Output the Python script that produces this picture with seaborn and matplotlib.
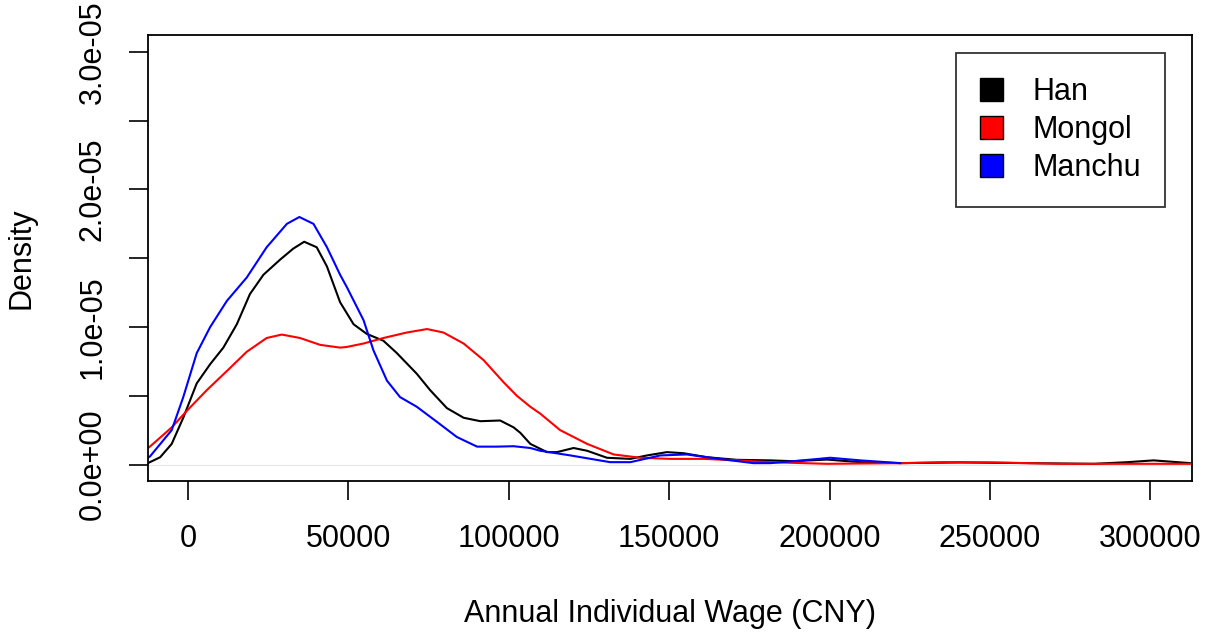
import numpy as np
import pandas as pd
import seaborn as sns
import matplotlib.pyplot as plt
from matplotlib.patches import Patch

# density curves (x in CNY, density in units of 1e-5)
han_x = [-12500, -11900, -8700, -5100, -1500, 2700, 6900, 11000, 15200, 19300,
         23500, 28700, 32800, 36200, 40100, 43300, 47400, 51600, 55700, 60900,
         65100, 71300, 75500, 80700, 85900, 91100, 97300, 101500, 103600, 106700,
         111900, 115000, 120200, 124400, 130600, 137900, 143100, 149300, 154500,
         161800, 171100, 181500, 188700, 199200, 209600, 222100, 240800, 261600,
         282300, 292900, 301000, 312500]
han_y = [0.01, 0.017, 0.053, 0.15, 0.34, 0.59, 0.73, 0.85, 1.02, 1.24,
         1.38, 1.49, 1.57, 1.62, 1.58, 1.44, 1.18, 1.02, 0.95, 0.90,
         0.81, 0.66, 0.54, 0.41, 0.34, 0.315, 0.32, 0.27, 0.23, 0.15,
         0.09, 0.09, 0.12, 0.10, 0.049, 0.041, 0.066, 0.09, 0.082,
         0.053, 0.034, 0.03, 0.024, 0.036, 0.017, 0.01, 0.015, 0.01,
         0.005, 0.017, 0.03, 0.01]

mongol_x = [-12500, -11900, -5100, -400, 5800, 12100, 18300, 24500, 29200, 34900,
            41200, 47400, 49500, 54700, 60900, 68200, 74500, 79600, 85900, 92100,
            98300, 102500, 106700, 109800, 116000, 124400, 132700, 141000, 150300,
            160700, 171100, 181500, 199200, 223000, 235500, 251100, 272000, 292900,
            312500]
mongol_y = [0.12, 0.13, 0.27, 0.39, 0.54, 0.68, 0.82, 0.92, 0.945, 0.92,
            0.87, 0.85, 0.855, 0.88, 0.92, 0.96, 0.985, 0.96, 0.88, 0.76,
            0.60, 0.50, 0.42, 0.37, 0.25, 0.15, 0.073, 0.049, 0.041,
            0.041, 0.03, 0.017, 0.005, 0.01, 0.017, 0.015, 0.005, 0.005,
            0.005]

manchu_x = [-12500, -11900, -5100, -1500, 2700, 6900, 12100, 18300, 24500, 30800,
            34700, 39100, 43300, 47400, 49500, 54700, 57800, 62000, 66100, 71300,
            77600, 83800, 90100, 96300, 101500, 106700, 109800, 119200, 131600,
            137900, 147200, 155500, 165900, 176200, 181500, 188700, 200200, 209600,
            222100]
manchu_y = [0.05, 0.058, 0.25, 0.49, 0.81, 1.0, 1.19, 1.36, 1.58, 1.75,
            1.80, 1.75, 1.58, 1.38, 1.29, 1.05, 0.83, 0.61, 0.49, 0.42,
            0.31, 0.20, 0.13, 0.13, 0.133, 0.12, 0.10, 0.066, 0.017,
            0.017, 0.066, 0.073, 0.04, 0.01, 0.01, 0.024, 0.049, 0.03,
            0.01]

groups = ['Han', 'Mongol', 'Manchu']
colors = ['black', 'red', 'blue']
x_ticks = [0, 50000, 100000, 150000, 200000, 250000, 300000]
y_ticks = [0, 5e-06, 1e-05, 1.5e-05, 2e-05, 2.5e-05, 3e-05]
y_labels = ['0.0e+00', '', '1.0e-05', '', '2.0e-05', '', '3.0e-05']

frames = []
for name, xs, ys in [('Han', han_x, han_y), ('Mongol', mongol_x, mongol_y),
                     ('Manchu', manchu_x, manchu_y)]:
    frames.append(pd.DataFrame({'wage': xs, 'density': np.array(ys) * 1e-5, 'group': name}))
df = pd.concat(frames, ignore_index=True)

sns.set_theme(style='white')
plt.rcParams['font.family'] = ['Liberation Sans', 'DejaVu Sans']
plt.rcParams['text.color'] = 'black'
plt.rcParams['axes.labelcolor'] = 'black'
plt.rcParams['xtick.major.size'] = 14
plt.rcParams['ytick.major.size'] = 14
plt.rcParams['xtick.major.width'] = 1.2
plt.rcParams['ytick.major.width'] = 1.2
plt.rcParams['xtick.bottom'] = True
plt.rcParams['ytick.left'] = True

fig = plt.figure(figsize=(12.06, 6.36), dpi=100)
ax = fig.add_axes([0.1227, 0.2437, 0.8657, 0.7005])

ax.axhline(0, color='#e8e8e8', lw=0.8, zorder=0)
sns.lineplot(data=df, x='wage', y='density', hue='group', hue_order=groups,
             palette=colors, estimator=None, sort=False, linewidth=1.5,
             legend=False, ax=ax)

ax.set_xlim(-12500, 313000)
ax.set_ylim(-1.2e-06, 3.12e-05)
ax.set_xticks(x_ticks)
ax.set_xticklabels([str(v) for v in x_ticks], fontsize=22)
ax.set_yticks(y_ticks)
ax.set_yticklabels(y_labels, fontsize=22, rotation=90, va='center')
ax.tick_params(axis='x', colors='black', pad=17)
ax.tick_params(axis='y', colors='black', pad=15)
ax.set_xlabel('Annual Individual Wage (CNY)', fontsize=22, labelpad=32)
ax.set_ylabel('Density', fontsize=22, labelpad=30)

for s in ax.spines.values():
    s.set_color('black')
    s.set_linewidth(1.3)

handles = [Patch(facecolor=c, edgecolor='black', linewidth=1.0) for c in colors]
leg = ax.legend(handles, groups, loc='upper right', bbox_to_anchor=(0.974, 0.9607),
                fontsize=22, frameon=True, fancybox=False, edgecolor='black',
                handlelength=0.78, handleheight=0.78, handletextpad=0.95,
                labelspacing=0.26, borderpad=0.78, borderaxespad=0)
leg.get_frame().set_linewidth(1.3)

plt.savefig('out.png', dpi=100)
plt.close()
